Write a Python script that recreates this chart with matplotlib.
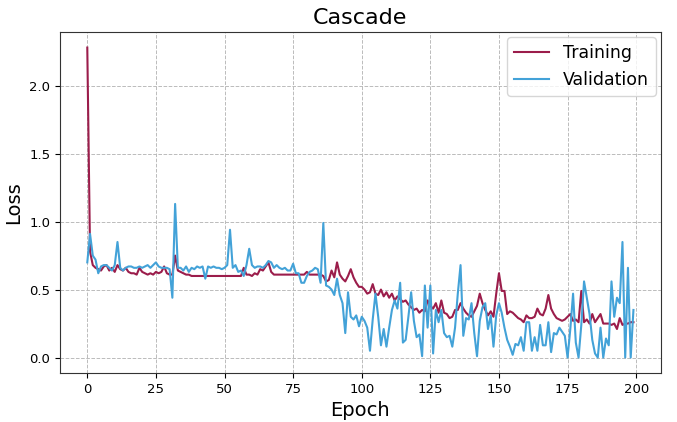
import numpy as np
import matplotlib
matplotlib.use("Agg")
import matplotlib.pyplot as plt

# per-epoch loss of the cascade model
train_loss = [
    2.28, 0.78, 0.68, 0.66, 0.65, 0.64, 0.67, 0.68, 0.64, 0.66,
    0.63, 0.68, 0.65, 0.64, 0.66, 0.63, 0.62, 0.62, 0.61, 0.66,
    0.63, 0.62, 0.61, 0.62, 0.61, 0.63, 0.62, 0.63, 0.67, 0.62,
    0.61, 0.61, 0.75, 0.64, 0.63, 0.62, 0.61, 0.61, 0.60, 0.60,
    0.60, 0.60, 0.60, 0.60, 0.60, 0.60, 0.60, 0.60, 0.60, 0.60,
    0.60, 0.60, 0.60, 0.60, 0.60, 0.60, 0.60, 0.66, 0.61, 0.61,
    0.60, 0.62, 0.61, 0.65, 0.64, 0.67, 0.70, 0.63, 0.61, 0.61,
    0.61, 0.61, 0.61, 0.61, 0.61, 0.61, 0.61, 0.61, 0.61, 0.61,
    0.63, 0.61, 0.61, 0.61, 0.61, 0.61, 0.60, 0.56, 0.57, 0.64,
    0.59, 0.70, 0.61, 0.58, 0.56, 0.60, 0.65, 0.59, 0.55, 0.52,
    0.52, 0.50, 0.47, 0.48, 0.54, 0.47, 0.46, 0.50, 0.45, 0.48,
    0.44, 0.47, 0.42, 0.45, 0.43, 0.41, 0.42, 0.39, 0.37, 0.35,
    0.36, 0.33, 0.35, 0.34, 0.42, 0.38, 0.36, 0.40, 0.33, 0.42,
    0.33, 0.32, 0.29, 0.30, 0.35, 0.35, 0.40, 0.36, 0.33, 0.31,
    0.30, 0.34, 0.38, 0.47, 0.40, 0.35, 0.31, 0.34, 0.30, 0.47,
    0.62, 0.49, 0.49, 0.32, 0.34, 0.33, 0.31, 0.29, 0.28, 0.26,
    0.31, 0.29, 0.29, 0.30, 0.36, 0.32, 0.31, 0.36, 0.46, 0.36,
    0.32, 0.29, 0.28, 0.27, 0.28, 0.30, 0.32, 0.27, 0.28, 0.26,
    0.49, 0.26, 0.28, 0.25, 0.32, 0.26, 0.29, 0.32, 0.25, 0.25,
    0.25, 0.24, 0.25, 0.21, 0.29, 0.24, 0.25, 0.25, 0.26, 0.26,
]

val_loss = [
    0.70, 0.91, 0.75, 0.72, 0.62, 0.67, 0.68, 0.68, 0.66, 0.64,
    0.68, 0.85, 0.66, 0.64, 0.66, 0.67, 0.67, 0.66, 0.66, 0.67,
    0.66, 0.67, 0.68, 0.66, 0.68, 0.70, 0.67, 0.66, 0.66, 0.66,
    0.65, 0.44, 1.13, 0.66, 0.66, 0.64, 0.67, 0.63, 0.66, 0.65,
    0.67, 0.66, 0.67, 0.58, 0.67, 0.66, 0.67, 0.66, 0.66, 0.65,
    0.66, 0.68, 0.94, 0.66, 0.68, 0.63, 0.64, 0.60, 0.68, 0.80,
    0.68, 0.66, 0.67, 0.67, 0.66, 0.68, 0.71, 0.70, 0.66, 0.68,
    0.66, 0.65, 0.66, 0.64, 0.64, 0.69, 0.62, 0.62, 0.55, 0.55,
    0.60, 0.63, 0.64, 0.66, 0.65, 0.55, 0.99, 0.53, 0.52, 0.50,
    0.46, 0.58, 0.46, 0.40, 0.18, 0.48, 0.30, 0.28, 0.31, 0.23,
    0.30, 0.27, 0.22, 0.05, 0.28, 0.47, 0.30, 0.09, 0.21, 0.08,
    0.22, 0.35, 0.42, 0.36, 0.55, 0.11, 0.13, 0.30, 0.48, 0.27,
    0.15, 0.17, 0.01, 0.53, 0.22, 0.53, 0.03, 0.35, 0.26, 0.35,
    0.18, 0.15, 0.16, 0.08, 0.22, 0.47, 0.68, 0.16, 0.29, 0.28,
    0.40, 0.18, 0.01, 0.27, 0.37, 0.40, 0.21, 0.31, 0.08, 0.31,
    0.40, 0.33, 0.22, 0.13, 0.08, 0.02, 0.10, 0.09, 0.15, 0.05,
    0.26, 0.26, 0.05, 0.15, 0.05, 0.24, 0.09, 0.09, 0.26, 0.04,
    0.18, 0.17, 0.22, 0.19, 0.16, 0.00, 0.21, 0.47, 0.11, 0.00,
    0.24, 0.56, 0.44, 0.32, 0.13, 0.03, 0.00, 0.22, 0.00, 0.14,
    0.09, 0.56, 0.30, 0.44, 0.40, 0.85, 0.00, 0.66, 0.00, 0.35,
]

epochs = np.arange(len(train_loss))

fig = plt.figure(figsize=(6.77, 4.22), dpi=100)
ax = fig.add_axes([0.0886, 0.116, 0.8874, 0.808])

ax.plot(epochs, train_loss, color="#9b1d4b", lw=1.5, label="Training")
ax.plot(epochs, val_loss, color="#43a2d8", lw=1.5, label="Validation")

ax.grid(True, linestyle="--", color="#bbbbbb", lw=0.7)
ax.set_axisbelow(True)
ax.set_xticks(np.arange(0, 201, 25))
ax.set_yticks(np.arange(0, 2.01, 0.5))
ax.tick_params(labelsize=9.5)
for s in ax.spines.values():
    s.set_color("#333333")

ax.set_title("Cascade", fontsize=16)
ax.set_xlabel("Epoch", fontsize=14)
ax.set_ylabel("Loss", fontsize=14)
ax.legend(fontsize=12.5, loc="upper right", borderaxespad=0.3)

fig.savefig("out.png", dpi=100)
